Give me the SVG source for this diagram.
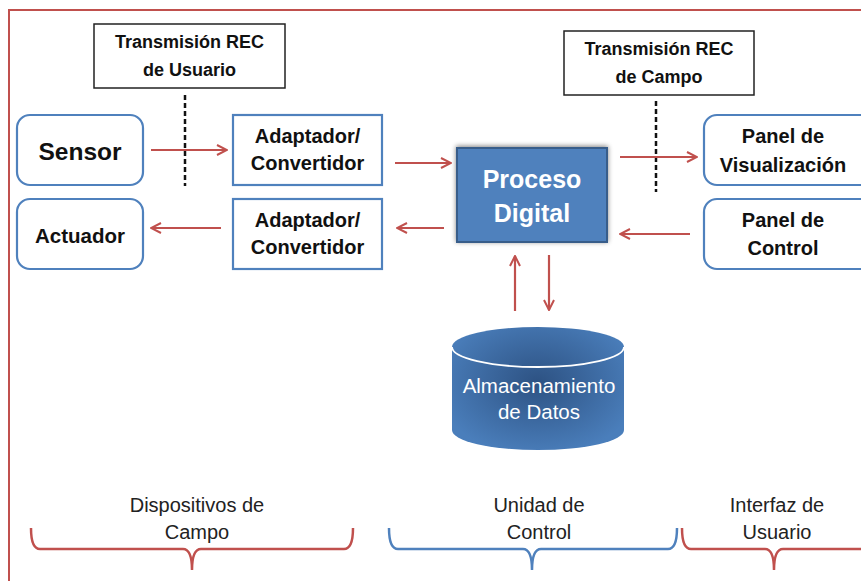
<svg xmlns="http://www.w3.org/2000/svg" width="861" height="581" viewBox="0 0 861 581">
<style>
.bg{fill:#fff}
.frame{fill:none;stroke:#C0504D;stroke-width:2}
.rbox{fill:#fff;stroke:#4F81BD;stroke-width:2.2}
.sbox{fill:#fff;stroke:#4F81BD;stroke-width:2.2}
.tbox{fill:#fff;stroke:#222;stroke-width:1.5}
.b{font-family:"Liberation Sans",Arial,sans-serif;font-weight:bold;fill:#111;text-anchor:middle}
.n{font-family:"Liberation Sans",Arial,sans-serif;fill:#222;text-anchor:middle}
.arr{fill:none;stroke:#C0504D;stroke-width:2.2;marker-end:url(#ah)}
.dash{fill:none;stroke:#111;stroke-width:2.5;stroke-dasharray:5 3}
.braceR{fill:none;stroke:#C0504D;stroke-width:2.5}
.braceB{fill:none;stroke:#4F81BD;stroke-width:2.5}
</style>
<defs>
<marker id="ah" viewBox="0 0 12 12" refX="11" refY="6" markerWidth="12" markerHeight="12" markerUnits="userSpaceOnUse" orient="auto">
<path d="M1,1 L11,6 L1,11" fill="none" stroke="#C0504D" stroke-width="2"/>
</marker>
<radialGradient id="cyl" cx="0.5" cy="0.45" r="0.6">
<stop offset="0" stop-color="#2D5283"/>
<stop offset="1" stop-color="#4A7EBB"/>
</radialGradient>
<filter id="sh" x="-10%" y="-15%" width="120%" height="130%">
<feGaussianBlur in="SourceAlpha" stdDeviation="2.5"/>
<feOffset dx="0" dy="-1" result="b"/>
<feComponentTransfer><feFuncA type="linear" slope="0.5"/></feComponentTransfer>
<feMerge><feMergeNode/><feMergeNode in="SourceGraphic"/></feMerge>
</filter>
</defs>
<rect class="bg" x="0" y="0" width="861" height="581"/>
<path class="frame" d="M9,590 L9,10 L870,10"/>

<g id="connectors">
<line class="dash" x1="185" y1="95" x2="185" y2="186"/>
<line class="dash" x1="656" y1="101" x2="656" y2="192"/>
<line class="arr" x1="151" y1="150" x2="227" y2="150"/>
<line class="arr" x1="395" y1="163" x2="451" y2="163"/>
<line class="arr" x1="221" y1="228" x2="151" y2="228"/>
<line class="arr" x1="444" y1="228" x2="397" y2="228"/>
<line class="arr" x1="620" y1="157" x2="697" y2="157"/>
<line class="arr" x1="690" y1="234" x2="620" y2="234"/>
<line class="arr" x1="515" y1="311" x2="515" y2="256"/>
<line class="arr" x1="549" y1="255" x2="549" y2="310"/>
</g>

<g id="tx-usuario">
<rect class="tbox" x="94" y="24" width="191" height="64"/>
<text class="b" x="189.5" y="48" font-size="18">Transmisión REC</text>
<text class="b" x="189.5" y="76" font-size="18">de Usuario</text>
</g>

<g id="tx-campo">
<rect class="tbox" x="564" y="31" width="190" height="64"/>
<text class="b" x="659" y="55" font-size="18">Transmisión REC</text>
<text class="b" x="659" y="83" font-size="18">de Campo</text>
</g>

<g id="sensor">
<rect class="rbox" x="17" y="115" width="126" height="70" rx="13"/>
<text class="b" x="80" y="160" font-size="24.5">Sensor</text>
</g>

<g id="actuador">
<rect class="rbox" x="17" y="199" width="126" height="70" rx="13"/>
<text class="b" x="80" y="243" font-size="20.5">Actuador</text>
</g>

<g id="adaptador1">
<rect class="sbox" x="233" y="115" width="149" height="70"/>
<text class="b" x="307.5" y="143" font-size="20">Adaptador/</text>
<text class="b" x="307.5" y="170" font-size="20">Convertidor</text>
</g>

<g id="adaptador2">
<rect class="sbox" x="233" y="199" width="149" height="70"/>
<text class="b" x="307.5" y="227" font-size="20">Adaptador/</text>
<text class="b" x="307.5" y="254" font-size="20">Convertidor</text>
</g>

<g id="proceso">
<rect x="457" y="148" width="150" height="94" fill="#4F81BD" stroke="#385D8A" stroke-width="2" filter="url(#sh)"/>
<text class="b" x="532" y="188" font-size="25" style="fill:#fff">Proceso</text>
<text class="b" x="532" y="222" font-size="25" style="fill:#fff">Digital</text>
</g>

<g id="panel-vis">
<rect class="rbox" x="704" y="115" width="180" height="70" rx="13"/>
<text class="b" x="783" y="143" font-size="20">Panel de</text>
<text class="b" x="783" y="172" font-size="20">Visualización</text>
</g>

<g id="panel-ctl">
<rect class="rbox" x="704" y="199" width="180" height="70" rx="13"/>
<text class="b" x="783" y="227" font-size="20">Panel de</text>
<text class="b" x="783" y="255" font-size="20">Control</text>
</g>

<g id="almacenamiento">
<path d="M452,347 L452,430 A86,20 0 0 0 624,430 L624,347 A86,20 0 0 0 452,347 Z" fill="url(#cyl)"/>
<path d="M452,347 A86,20 0 0 0 624,347" fill="none" stroke="#fff" stroke-width="1.8"/>
<text class="n" x="539" y="393" font-size="20.5" style="fill:#fff">Almacenamiento</text>
<text class="n" x="539" y="419" font-size="20.5" style="fill:#fff">de Datos</text>
</g>

<g id="dispositivos">
<path class="braceR" d="M31,528 Q31,549 40,549 L183,549 Q192,549 192,570 Q192,549 201,549 L344,549 Q353,549 353,528"/>
<text class="n" x="197" y="512" font-size="20">Dispositivos de</text>
<text class="n" x="197" y="539" font-size="20">Campo</text>
</g>

<g id="unidad">
<path class="braceB" d="M389,528 Q389,549 398,549 L523,549 Q532,549 532,570 Q532,549 541,549 L668,549 Q677,549 677,528"/>
<text class="n" x="539" y="512" font-size="20">Unidad de</text>
<text class="n" x="539" y="539" font-size="20">Control</text>
</g>

<g id="interfaz">
<path class="braceR" d="M682,528 Q682,549 691,549 L765,549 Q774,549 774,570 Q774,549 783,549 L870,549"/>
<text class="n" x="777" y="512" font-size="20">Interfaz de</text>
<text class="n" x="777" y="539" font-size="20">Usuario</text>
</g>
</svg>
